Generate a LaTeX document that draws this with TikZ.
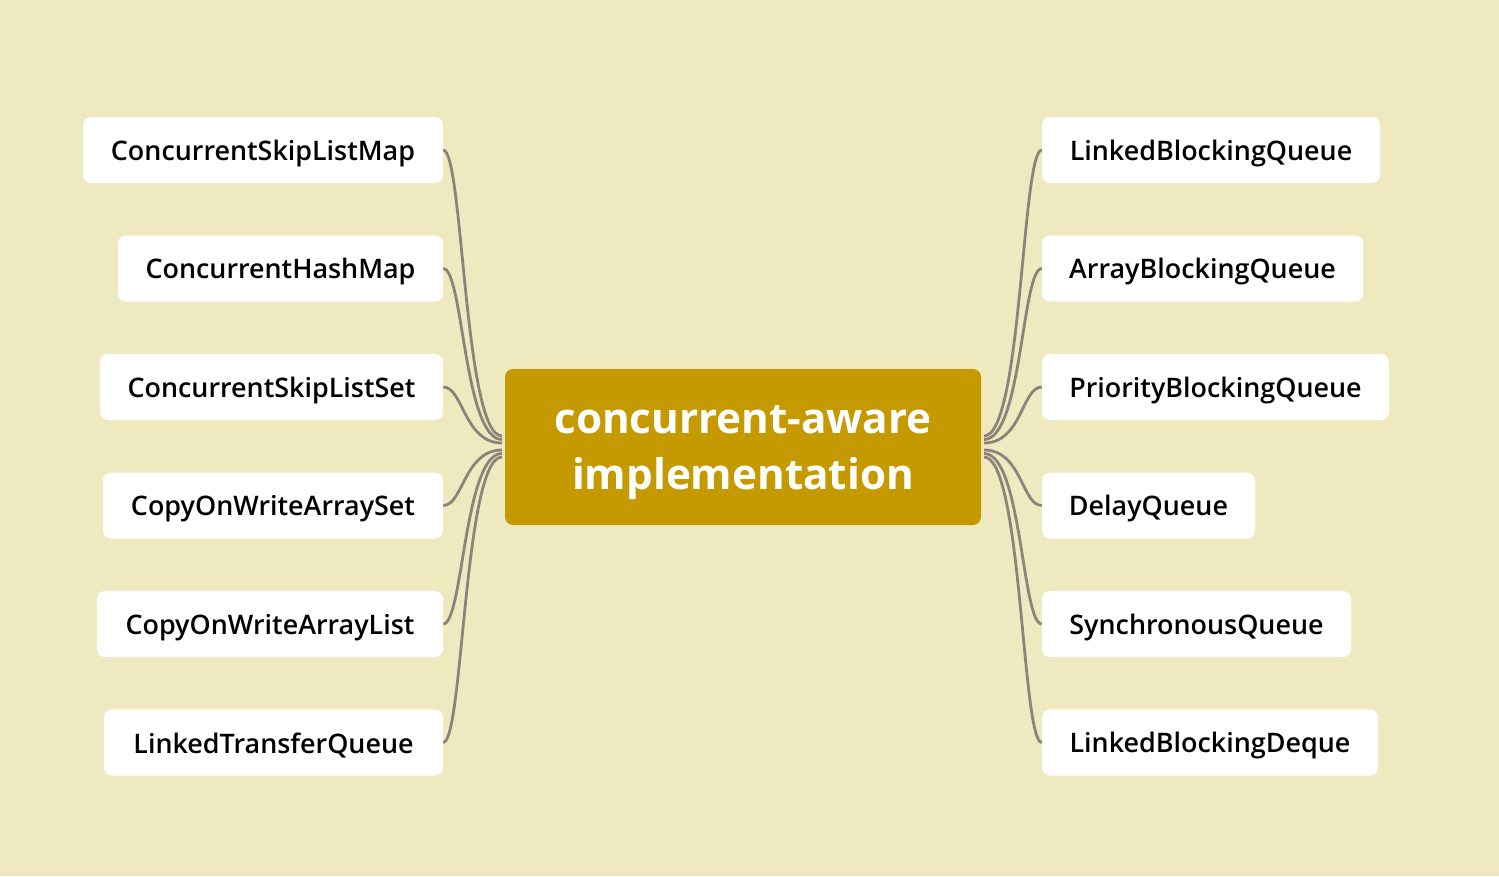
\documentclass[tikz,border=0pt]{standalone}
\usepackage{fontspec}
\setmainfont{Open Sans}
\IfFontExistsTF{Open Sans Semibold}{\newfontfamily\leaffont{Open Sans Semibold}}{%
  \IfFontExistsTF{OpenSans-Semibold}{\newfontfamily\leaffont{OpenSans-Semibold}}{%
    \newfontfamily\leaffont{Open Sans}[FakeBold=5]}}
\usetikzlibrary{calc}
\definecolor{bg}{RGB}{239,233,192}
\definecolor{rootc}{RGB}{196,154,0}
\definecolor{linec}{RGB}{140,132,122}
\tikzset{
  leaf/.style={fill=white, rounded corners=8pt, minimum height=66pt, inner sep=0pt,
    font=\leaffont\fontsize{26.9}{32}\selectfont, text=black},
  root/.style={fill=rootc, rounded corners=8pt, minimum width=476pt, minimum height=156pt,
    inner sep=0pt, align=center, text=white, font=\bfseries\fontsize{42.2}{56}\selectfont},
  conn/.style={draw=linec, line width=2.8pt}
}
\begin{document}
\begin{tikzpicture}[x=1pt,y=-1pt]
\fill[bg] (0,0) rectangle (1499,876);
\useasboundingbox (0,0) rectangle (1499,876);
\node[root] (R) at (743,447) {\rule{0pt}{40pt}concurrent-aware\\implementation};
% left leaves
\node[leaf, minimum width=360pt] (L1) at (263,150) {\rule{0pt}{27pt}ConcurrentSkipListMap};
\node[leaf, minimum width=325pt] (L2) at (280.5,268.5) {\rule{0pt}{27pt}ConcurrentHashMap};
\node[leaf, minimum width=343pt] (L3) at (271.5,387) {\rule{0pt}{27pt}ConcurrentSkipListSet};
\node[leaf, minimum width=340pt] (L4) at (273,505.5) {\rule{0pt}{27pt}CopyOnWriteArraySet};
\node[leaf, minimum width=346pt] (L5) at (270,624) {\rule{0pt}{27pt}CopyOnWriteArrayList};
\node[leaf, minimum width=339pt] (L6) at (273.5,742.5) {\rule{0pt}{27pt}LinkedTransferQueue};
% right leaves
\node[leaf, minimum width=338pt] (R1) at (1211,150) {\rule{0pt}{27pt}LinkedBlockingQueue};
\node[leaf, minimum width=321pt] (R2) at (1202.5,268.5) {\rule{0pt}{27pt}ArrayBlockingQueue};
\node[leaf, minimum width=347pt] (R3) at (1215.5,387) {\rule{0pt}{27pt}PriorityBlockingQueue};
\node[leaf, minimum width=213pt] (R4) at (1148.5,505.5) {\rule{0pt}{27pt}DelayQueue};
\node[leaf, minimum width=309pt] (R5) at (1196.5,624) {\rule{0pt}{27pt}SynchronousQueue};
\node[leaf, minimum width=336pt] (R6) at (1210,742.5) {\rule{0pt}{27pt}LinkedBlockingDeque};
% endpoints at root
\coordinate (a1) at (502,436);
\coordinate (a2) at (502,439.5);
\coordinate (a3) at (502,443);
\coordinate (a4) at (502,450);
\coordinate (a5) at (502,453.5);
\coordinate (a6) at (502,457);
\coordinate (b1) at (984,436);
\coordinate (b2) at (984,439.5);
\coordinate (b3) at (984,443);
\coordinate (b4) at (984,450);
\coordinate (b5) at (984,453.5);
\coordinate (b6) at (984,457);
\foreach \i in {1,...,6}{
  \draw[conn] (L\i.east) .. controls ($(L\i.east)+(20,0)$) and ($(a\i)+(-38,0)$) .. (a\i);
  \draw[conn] (R\i.west) .. controls ($(R\i.west)+(-20,0)$) and ($(b\i)+(38,0)$) .. (b\i);
}
\end{tikzpicture}
\end{document}
